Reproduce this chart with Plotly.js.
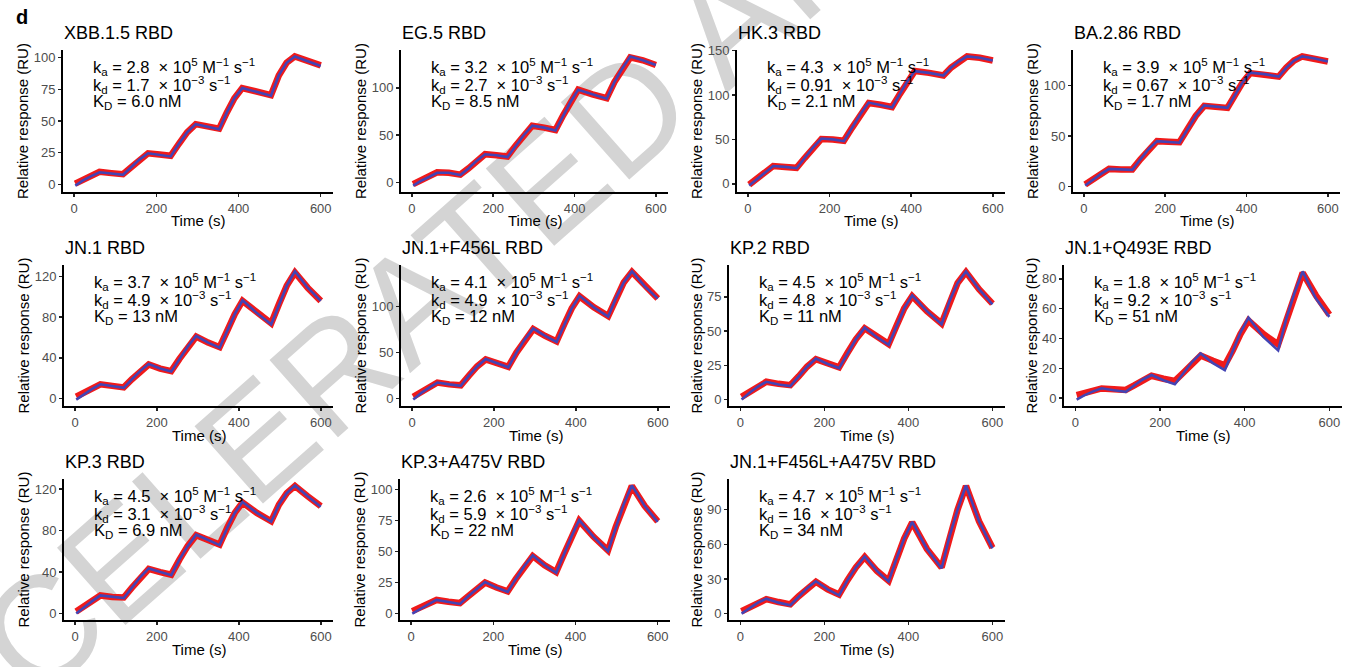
<!DOCTYPE html>
<html>
<head>
<meta charset="utf-8">
<script src="https://cdn.plot.ly/plotly-3.0.1.min.js"></script>
<style>
html,body{margin:0;padding:0;background:#fff;overflow:hidden}
#wrap{position:relative;width:1347px;height:667px;overflow:hidden;background:#fff}
#wm{position:absolute;left:0;top:0;font-family:"Liberation Sans",Arial,sans-serif;font-size:150px;line-height:150px;color:#d4d4d4;white-space:nowrap;transform-origin:0 0;z-index:0}
#chart{position:absolute;left:0;top:0;width:1347px;height:667px;z-index:1}
</style>
</head>
<body>
<div id="wrap">
<div id="wm">ACCELERATED ARTICLE PREVIEW</div>
<div id="chart"></div>
</div>
<script>
// ---------------- data ----------------
const time = [3, 22, 42, 62, 91, 119, 139, 159, 180, 208, 235, 255, 275, 296, 325, 353, 372, 390, 409, 444, 479, 498, 517, 537, 568, 600];

const panelNames = ['XBB.1.5 RBD', 'EG.5 RBD', 'HK.3 RBD', 'BA.2.86 RBD',
                    'JN.1 RBD', 'JN.1+F456L RBD', 'KP.2 RBD', 'JN.1+Q493E RBD',
                    'KP.3 RBD', 'KP.3+A475V RBD', 'JN.1+F456L+A475V RBD'];
const kaValues = ['2.8', '3.2', '4.3', '3.9', '3.7', '4.1', '4.5', '1.8', '4.5', '2.6', '4.7'];
const kdValues = ['1.7', '2.7', '0.91', '0.67', '4.9', '4.9', '4.8', '9.2', '3.1', '5.9', '16'];
const KDValues = ['6.0', '8.5', '2.1', '1.7', '13', '12', '11', '51', '6.9', '22', '34'];
const yTickValues = [[0, 25, 50, 75, 100], [0, 50, 100], [0, 50, 100, 150], [0, 50, 100],
                     [0, 40, 80, 120], [0, 50, 100], [0, 25, 50, 75], [0, 20, 40, 60, 80],
                     [0, 40, 80, 120], [0, 25, 50, 75, 100], [0, 30, 60, 90]];
const xTickValues = [0, 200, 400, 600];

// measured response (blue) and fitted curve (red), relative response (RU)
const xbb15Resp = [-1, 3, 6.5, 9.5, 8.5, 7.5, 13.5, 19.5, 24.5, 23.5, 22, 32, 41, 47.5, 45.5, 43.5, 57, 68, 76, 73, 70, 86, 96, 101, 97.5, 93.5];
const xbb15Fit  = [0.5, 3.5, 7, 9.8, 8.8, 8, 13.5, 19.5, 24.5, 23.5, 22.5, 32, 41, 47.5, 45.5, 44, 57, 68, 76, 73, 70.5, 86, 96, 101, 97.5, 94];
const eg5Resp   = [-3, 2, 6, 10.5, 10.5, 8, 15, 23, 30, 29, 27, 39, 50, 60, 58, 55, 71, 85, 98, 93, 88.5, 106, 120, 133, 129, 124];
const eg5Fit    = [-1.5, 3, 6.5, 11, 10.5, 8.5, 15, 23, 30, 29, 27.5, 39, 50, 60, 58, 55.5, 71, 85, 98, 93, 89, 106, 120, 132, 129, 124];
const hk3Resp   = [-2, 5, 12.5, 20, 19, 17.5, 29, 40.5, 51, 50, 48, 63, 78, 91.5, 89, 86, 101, 115, 127, 125, 122, 131, 138, 143.5, 142, 139];
const hk3Fit    = [-1, 5.5, 13, 20, 19, 18, 29, 40.5, 50.5, 50, 48.5, 63, 78, 91, 89, 86.5, 101, 115, 127, 125, 122, 131, 138, 143.5, 142, 139];
const ba286Resp = [1, 7, 12.5, 17.5, 17, 16.5, 27, 37, 45, 44.5, 43.5, 57, 70, 80.5, 79.5, 78, 91, 103, 113, 111.5, 109, 118, 125, 129, 127, 124];
const ba286Fit  = [2, 7.5, 13, 17.5, 17, 17, 27, 37, 45, 44.5, 44, 57, 70, 80, 79.5, 78, 91, 103, 112.5, 111.5, 109, 118, 125, 129, 127, 124];
const jn1Resp   = [-1, 4.5, 9.5, 14, 12, 10.5, 19, 27, 34, 29.5, 26.5, 39, 51, 61.5, 55, 50, 67, 83, 96.5, 84, 73, 93, 111, 125, 109, 96];
const jn1Fit    = [2, 6, 10.5, 14, 12.5, 11, 19, 27, 33.5, 29.5, 27, 39, 51, 61, 55, 50.5, 67, 83, 96, 84, 74, 93, 111, 124, 109, 96];
const f456lResp = [-1, 6, 12, 17.5, 15.5, 14, 25, 35, 43, 38, 34, 50, 64, 76, 68, 61.5, 81, 98, 111.5, 99, 89, 109, 126, 138, 122, 108.5];
const f456lFit  = [2, 7, 12.5, 17.5, 15.5, 14.5, 25, 35, 42.5, 38, 34.5, 50, 64, 75.5, 68, 62, 81, 98, 111, 99, 89.5, 109, 126, 137.5, 122, 108.5];
const kp2Resp   = [0, 5, 9.5, 13, 11, 9.8, 17, 24, 30, 26, 23, 34, 44, 52.5, 45.5, 40, 54, 66.5, 76, 64.5, 55, 72, 85, 93.5, 80.5, 69.5];
const kp2Fit    = [2, 5.5, 9.5, 13, 11.5, 10.5, 17, 24, 29.5, 26, 23.5, 34, 44, 52, 45.5, 40.5, 54, 66.5, 75.5, 64.5, 55.5, 72, 85, 93, 80.5, 70];
const q493eResp = [-1, 2, 4.5, 6.6, 5.3, 4.2, 8.5, 12.5, 15.5, 12, 9.3, 17, 24, 30, 23.5, 18.8, 32, 44, 54, 41, 32, 53, 70, 85, 67, 54.5];
const q493eFit  = [2, 3.5, 5, 6.5, 6, 5.5, 8.5, 12, 15, 13, 11.5, 17, 23, 28.5, 25, 22, 32, 43, 52, 43, 36, 52, 68, 84, 69, 56];
const kp3Resp   = [0, 6, 12, 17.5, 16, 15, 25, 35, 43.5, 40, 37, 52, 65, 76, 71, 66, 83, 97, 107.5, 97, 88.5, 105, 116, 123.5, 113, 103];
const kp3Fit    = [2, 7, 12.5, 17.5, 16, 15.5, 25, 35, 43, 40, 37.5, 52, 65, 75.5, 71, 66.5, 83, 97, 107, 97, 89, 105, 116, 123, 113, 103.5];
const kp3a475vResp = [0, 4, 7.5, 11, 9.2, 7.8, 14, 20, 25.5, 21, 17.5, 28, 38, 47, 39, 33, 48, 62, 75.5, 62, 50.5, 70, 88, 103.5, 87, 74];
const kp3a475vFit  = [2, 4.5, 8, 11, 9.5, 8.5, 14, 20, 25, 21, 18, 28, 38, 46.5, 39, 33.5, 48, 62, 75, 62, 51, 70, 88, 103, 87, 74.5];
const tripleResp = [0, 5, 9.5, 12.9, 9.5, 7.2, 15, 22, 28, 21, 15.8, 29, 40, 49.5, 37, 27.8, 48, 65, 79.5, 56, 39.3, 67, 90, 111, 80, 56.5];
const tripleFit  = [2, 5.5, 9.5, 12.5, 10, 8, 15, 22, 27.5, 21, 16.5, 29, 40, 49, 37, 28.5, 48, 65, 79, 56, 40, 67, 90, 110.5, 80, 57];

const responses = [xbb15Resp, eg5Resp, hk3Resp, ba286Resp, jn1Resp, f456lResp, kp2Resp, q493eResp, kp3Resp, kp3a475vResp, tripleResp];
const fits = [xbb15Fit, eg5Fit, hk3Fit, ba286Fit, jn1Fit, f456lFit, kp2Fit, q493eFit, kp3Fit, kp3a475vFit, tripleFit];

// ---------------- layout (pixels) ----------------
const W = 1347, H = 667;
const boxes = [
  [63, 333, 50, 192], [401, 668, 50, 192], [737, 1005, 50, 192], [1073, 1340, 50, 192],
  [64, 333, 265, 406], [401, 670, 265, 406], [729, 1005, 265, 406], [1064, 1342, 265, 406],
  [64, 333, 479, 620], [400, 670, 479, 620], [729, 1005, 479, 620]
];
const FONT = 'Liberation Sans, Arial, Helvetica, sans-serif';
const RED = '#f01a1a', BLUE = '#4344b4';
const px = x => x / W;
const py = y => 1 - y / H;

const traces = [];
const layout = {
  width: W, height: H,
  margin: {l: 0, r: 0, t: 0, b: 0},
  paper_bgcolor: 'rgba(0,0,0,0)', plot_bgcolor: 'rgba(0,0,0,0)',
  showlegend: false,
  font: {family: FONT, color: '#000'},
  annotations: []
};

const tmin = Math.min(...time), tmax = Math.max(...time);
const tpad = (tmax - tmin) * 0.05;

panelNames.forEach((name, i) => {
  const n = i + 1;
  const xa = 'x' + (n === 1 ? '' : n), ya = 'y' + (n === 1 ? '' : n);
  const xk = 'xaxis' + (n === 1 ? '' : n), yk = 'yaxis' + (n === 1 ? '' : n);
  const [l, r, t, b] = boxes[i];
  traces.push({x: time, y: fits[i], xaxis: xa, yaxis: ya, type: 'scatter', mode: 'lines',
               line: {color: RED, width: 6.5}, hoverinfo: 'skip'});
  traces.push({x: time, y: responses[i], xaxis: xa, yaxis: ya, type: 'scatter', mode: 'lines',
               line: {color: BLUE, width: 2.6}, hoverinfo: 'skip'});
  const all = fits[i].concat(responses[i]);
  const ymin = Math.min(...all), ymax = Math.max(...all);
  const ypad = (ymax - ymin) * 0.05;
  const axCommon = {
    showgrid: false, zeroline: false, showline: true, linecolor: '#000', linewidth: 2,
    ticks: 'outside', ticklen: 3, tickwidth: 1.5, tickcolor: '#222',
    tickfont: {family: FONT, size: 13, color: '#4d4d4d'}, fixedrange: true
  };
  layout[xk] = Object.assign({}, axCommon, {
    domain: [px(l), px(r)], anchor: ya, range: [tmin - tpad, tmax + tpad],
    tickmode: 'array', tickvals: xTickValues, ticktext: xTickValues.map(String)
  });
  layout[yk] = Object.assign({}, axCommon, {
    domain: [py(b), py(t)], anchor: xa, range: [ymin - ypad, ymax + ypad],
    tickmode: 'array', tickvals: yTickValues[i], ticktext: yTickValues[i].map(String)
  });
  // panel title
  layout.annotations.push({xref: 'paper', yref: 'paper', x: px(l - 1), y: py(t - 17),
    xanchor: 'left', yanchor: 'middle', showarrow: false, text: name,
    font: {family: FONT, size: 18, color: '#000'}});
  // axis titles
  const digits = Math.max(...yTickValues[i]).toString().length;
  layout.annotations.push({xref: 'paper', yref: 'paper', x: px(l - 17 - 8 * digits), y: py((t + b) / 2),
    xanchor: 'center', yanchor: 'middle', textangle: -90, showarrow: false,
    text: 'Relative response (RU)', font: {family: FONT, size: 15, color: '#000'}});
  layout.annotations.push({xref: 'paper', yref: 'paper', x: px((l + r) / 2), y: py(b + 29),
    xanchor: 'center', yanchor: 'middle', showarrow: false,
    text: 'Time (s)', font: {family: FONT, size: 15, color: '#000'}});
  // kinetics text
  const lines = [
    'k<sub>a</sub> = ' + kaValues[i] + ' \u00a0\u00d7 10<sup>5</sup> M<sup>\u22121</sup> s<sup>\u22121</sup>',
    'k<sub>d</sub> = ' + kdValues[i] + ' \u00a0\u00d7 10<sup>\u22123</sup> s<sup>\u22121</sup>',
    'K<sub>D</sub> = ' + KDValues[i] + ' nM'
  ];
  const offs = [17, 34.5, 52];
  lines.forEach((txt, k) => {
    layout.annotations.push({xref: 'paper', yref: 'paper', x: px(l + 28), y: py(t + offs[k]),
      xanchor: 'left', yanchor: 'middle', showarrow: false, text: txt,
      font: {family: FONT, size: 16.5, color: '#000'}});
  });
});

// panel letter
layout.annotations.push({xref: 'paper', yref: 'paper', x: px(14), y: py(17),
  xanchor: 'left', yanchor: 'middle', showarrow: false, text: '<b>d</b>',
  font: {family: FONT, size: 20, color: '#000'}});

Plotly.newPlot('chart', traces, layout, {staticPlot: true, displayModeBar: false});

// watermark placement (behind the transparent chart)
document.getElementById('wm').style.transform = 'translate(-205px, 748px) rotate(-41.5deg)';
</script>
</body>
</html>
